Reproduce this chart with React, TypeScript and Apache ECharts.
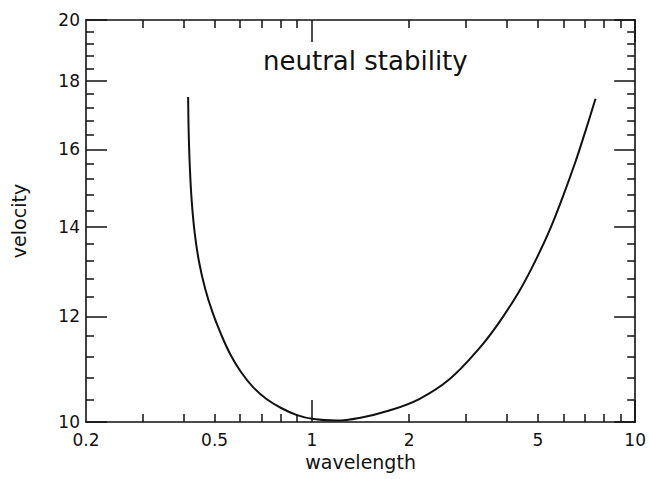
import React, { useEffect, useRef } from "react";
import * as echarts from "echarts";

// Neutral stability curve: velocity against wavelength (both on log scales)
const wavelength = [
  0.414, 0.4155, 0.4188, 0.4245, 0.4336, 0.4477, 0.4672, 0.4926, 0.5229,
  0.5588, 0.6033, 0.6574, 0.725, 0.8055, 0.899, 1.011, 1.19, 1.402, 1.735,
  2.147, 2.657, 3.288, 3.791, 4.37, 4.803, 5.408, 5.943, 6.539, 7.02, 7.538,
];
const velocity = [
  17.51, 16.53, 15.57, 14.66, 13.87, 13.17, 12.59, 12.08, 11.64, 11.24, 10.9,
  10.62, 10.4, 10.24, 10.12, 10.05, 10.024, 10.07, 10.2, 10.404, 10.759, 11.35,
  11.87, 12.52, 13.06, 13.88, 14.7, 15.67, 16.52, 17.46,
];

// Axis ranges, tick marks and tick labels (in data units)
const xRange = [0.2, 10];
const yRange = [10, 20];
const xLabelValues = [0.2, 0.5, 1, 2, 5, 10];
const xMajorTicks = [1, 10];
const xMinorTicks = [0.3, 0.4, 0.5, 0.6, 0.7, 0.8, 0.9, 2, 3, 4, 5, 6, 7, 8, 9];
const yLabelValues = [10, 12, 14, 16, 18, 20];
const yMinorTicks = [
  10.4, 10.8, 11.2, 11.6, 12.4, 12.8, 13.2, 13.6, 14.4, 14.8, 15.2, 15.6, 16.4,
  16.8, 17.2, 17.6, 18.4, 18.8, 19.2, 19.6,
];

const lg = (v: number) => Math.log10(v);
const fmt = (v: number) => String(Number(Math.pow(10, v).toPrecision(4)));

const INK = "#111";
const FONT = "DejaVu Sans";

function axisBase(kind: "x" | "y", position: string, showLine: boolean) {
  const r = kind === "x" ? xRange : yRange;
  return {
    type: "value",
    position,
    min: lg(r[0]),
    max: lg(r[1]),
    splitLine: { show: false },
    axisLine: {
      show: showLine,
      onZero: false,
      lineStyle: { color: INK, width: 1.6 },
    },
    axisLabel: { show: false },
    axisTick: { show: false },
  };
}

function ticks(values: number[], length: number) {
  return {
    show: true,
    inside: true,
    length,
    customValues: values.map(lg),
    lineStyle: { color: INK, width: 1.5 },
  };
}

export default function App() {
  const ref = useRef<HTMLDivElement>(null);

  useEffect(() => {
    if (!ref.current) return;
    const chart = echarts.init(ref.current, null, { renderer: "svg" });

    const labelStyle = {
      show: true,
      color: INK,
      fontFamily: FONT,
      fontSize: 17,
      formatter: (v: number) => fmt(v),
    };

    const xAxis = [
      {
        ...axisBase("x", "bottom", true),
        axisTick: ticks(xMajorTicks, 22),
        axisLabel: {
          ...labelStyle,
          margin: 9,
          customValues: xLabelValues.map(lg),
        },
        name: "wavelength",
        nameLocation: "middle",
        nameGap: 30,
        nameTextStyle: { color: INK, fontFamily: FONT, fontSize: 19 },
      },
      { ...axisBase("x", "bottom", false), axisTick: ticks(xMinorTicks, 8) },
      { ...axisBase("x", "top", true), axisTick: ticks(xMajorTicks, 22) },
      { ...axisBase("x", "top", false), axisTick: ticks(xMinorTicks, 8) },
    ];

    const yAxis = [
      {
        ...axisBase("y", "left", true),
        axisTick: ticks(yLabelValues, 21),
        axisLabel: {
          ...labelStyle,
          margin: 6,
          customValues: yLabelValues.map(lg),
        },
        name: "velocity",
        nameLocation: "middle",
        nameGap: 58,
        nameTextStyle: { color: INK, fontFamily: FONT, fontSize: 19 },
      },
      { ...axisBase("y", "left", false), axisTick: ticks(yMinorTicks, 8) },
      { ...axisBase("y", "right", true), axisTick: ticks(yLabelValues, 21) },
      { ...axisBase("y", "right", false), axisTick: ticks(yMinorTicks, 8) },
    ];

    chart.setOption({
      animation: false,
      backgroundColor: "#fff",
      title: {
        text: "neutral stability",
        left: 258,
        top: 43,
        textStyle: {
          color: INK,
          fontFamily: FONT,
          fontSize: 26,
          fontWeight: "normal",
        },
      },
      grid: { left: 86, right: 13, top: 20, bottom: 57, containLabel: false },
      xAxis,
      yAxis,
      series: [
        {
          type: "line",
          xAxisIndex: 0,
          yAxisIndex: 0,
          data: wavelength.map((w, i) => [lg(w), lg(velocity[i])]),
          smooth: 0.4,
          showSymbol: false,
          lineStyle: { color: INK, width: 2 },
        },
      ],
    });

    return () => chart.dispose();
  }, []);

  return (
    <div
      ref={ref}
      style={{ position: "fixed", left: 0, top: 0, width: 649, height: 479 }}
    />
  );
}
